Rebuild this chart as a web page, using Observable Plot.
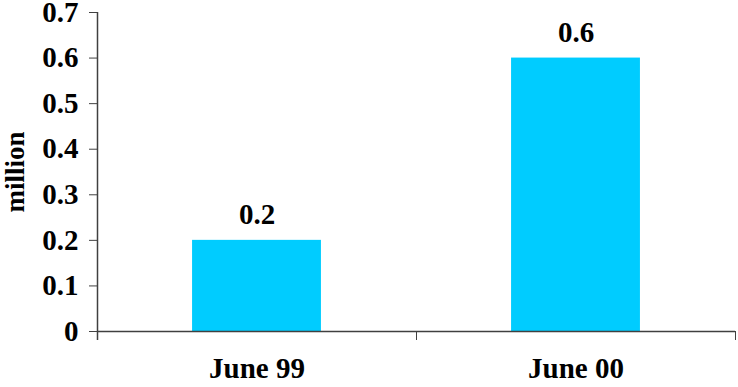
<!DOCTYPE html>
<html>
<head>
<meta charset="utf-8">
<script src="https://cdn.jsdelivr.net/npm/d3@7"></script>
<script src="https://cdn.jsdelivr.net/npm/@observablehq/plot@0.6"></script>
<style>
  html, body { margin: 0; padding: 0; background: #fff; }
  svg text { font-family: "Liberation Serif", "Times New Roman", serif !important; }
</style>
</head>
<body>
<div id="chart"></div>
<script>
// Subscribers, in millions
const categories = ["June 99", "June 00"];
const values = [0.2, 0.6];
const yTicks = [0, 0.1, 0.2, 0.3, 0.4, 0.5, 0.6, 0.7];

const rows = categories.map((c, i) => ({category: c, index: i, value: values[i]}));

// Each category occupies one unit slot; the bar fills the middle part of it.
const barHalf = 0.202;
const slotEdges = d3.range(categories.length + 1);
const slotCenters = categories.map((c, i) => i + 0.5);

const font = "Liberation Serif";
const axisColor = "#404040";
const labelSize = 29;

const chart = Plot.plot({
  width: 738,
  height: 387,
  marginLeft: 97,
  marginRight: 3,
  marginTop: 12,
  marginBottom: 56,
  style: {fontFamily: font, fontWeight: "bold", fontSize: "28px", color: "#000", background: "#fff"},
  x: {type: "linear", domain: [0, categories.length]},
  y: {domain: [0, 0.7]},
  marks: [
    Plot.rectY(rows, {
      x1: d => d.index + 0.5 - barHalf,
      x2: d => d.index + 0.5 + barHalf,
      y1: 0,
      y2: "value",
      fill: "#00CCFF"
    }),
    Plot.text(rows, {
      x: d => d.index + 0.5,
      y: "value",
      text: d => d.value.toFixed(1),
      lineAnchor: "bottom",
      dy: -16,
      fontFamily: font,
      fontSize: labelSize,
      fontWeight: "bold",
      fill: "#000"
    }),
    // y axis: line, ticks and labels
    Plot.ruleX([0], {y1: 0.7, y2: 0, stroke: axisColor, strokeWidth: 1.5, insetBottom: -9}),
    Plot.axisY({
      ticks: yTicks,
      tickFormat: d => d === 0 ? "0" : d.toFixed(1),
      tickSize: 8,
      tickPadding: 11,
      stroke: axisColor,
      fontFamily: font,
      fontSize: labelSize,
      fontWeight: "bold",
      label: null
    }),
    // x axis: baseline, slot boundary ticks, category labels
    Plot.ruleY([0], {stroke: axisColor, strokeWidth: 1.5}),
    Plot.axisX({
      ticks: slotEdges,
      tickFormat: () => "",
      tickSize: 9,
      stroke: axisColor,
      label: null
    }),
    Plot.axisX({
      ticks: slotCenters,
      tickFormat: d => categories[Math.floor(d)],
      tickSize: 0,
      tickPadding: 26,
      fontFamily: font,
      fontSize: labelSize,
      fontWeight: "bold",
      label: null
    }),
    // vertical unit label, centred on the plot's height
    Plot.text(["million"], {
      frameAnchor: "left",
      text: d => d,
      textAnchor: "middle",
      rotate: -90,
      dx: -82,
      fontFamily: font,
      fontSize: 27,
      fontWeight: "bold",
      fill: "#000"
    })
  ]
});

document.getElementById("chart").appendChild(chart);
</script>
</body>
</html>
